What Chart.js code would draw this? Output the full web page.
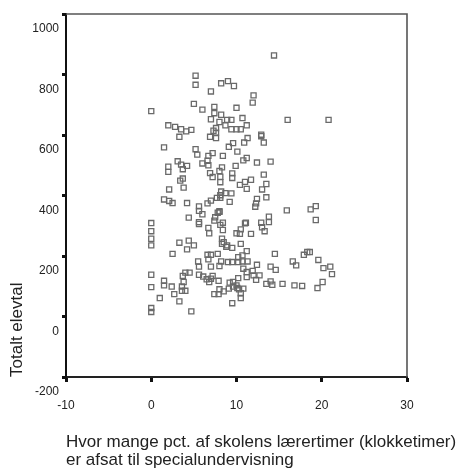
<!DOCTYPE html>
<html>
<head>
<meta charset="utf-8">
<script src="https://cdn.jsdelivr.net/npm/chart.js@4.4.0/dist/chart.umd.min.js"></script>
<style>
  html, body { margin: 0; padding: 0; background: #fff; }
  #wrap { width: 456px; height: 472px; }
</style>
</head>
<body>
<div id="wrap"><canvas id="c" width="456" height="472"></canvas></div>
<script>
// Percentage of teacher hours set aside for special education (x)
const pctSpecial = [
  5.2, 5.2, 8.2, 9.0, 9.7, 7.0, 0, 5.0, 6.0, 7.4, 7.4, 8.2, 10.0, 7.0, 8.0, 8.9, 9.4, 8.7, 7.6, 9.4,
  2.0, 2.8, 3.5, 4.1, 4.7, 7.3, 10.0, 14.4, 12.0, 11.9, 16.0, 20.8, 10.7, 11.2, 10.5, 12.9,
  3.3, 6.9, 7.6, 7.6, 9.6, 1.5, 5.2, 5.4, 7.2, 6.7, 8.4, 9.1, 10.1, 6.0, 6.6, 6.7, 2.0, 2.0,
  3.1, 3.5, 4.2, 3.7, 8.3, 8.0, 6.9, 7.2, 8.1, 9.5, 9.5, 9.9, 8.1, 3.4, 3.7, 3.8, 2.1, 8.2,
  8.7, 9.4, 10.4, 1.5, 2.1, 2.5, 4.2, 8.1, 8.1, 7.7, 7.0, 6.6, 9.2, 5.6, 5.6, 6.0, 7.8, 8.0,
  7.5, 4.4, 5.6, 7.4, 8.4, 0, 11.3, 10.9, 12.9, 13.2, 11.2, 10.8, 12.4, 14.0, 13.2, 11.7,
  11.0, 11.2, 13.5, 13.0, 13.5, 12.4, 12.3, 12.2, 15.9, 18.7, 19.3, 19.3, 11.1, 12.9, 13.8, 13.8,
  0, 0, 0, 5.6, 6.7, 6.8, 8.1, 8.4, 8.3, 8.5, 8.9, 9.5, 10.0, 3.3, 4.4, 5.0, 4.2, 2.5, 6.6,
  7.0, 7.8, 6.7, 5.5, 5.6, 7.0, 8.2, 8.0, 9.0, 9.5, 10.2, 0, 1.5, 1.5, 0, 2.4, 2.7, 1.0, 3.3,
  3.7, 4.0, 4.5, 3.8, 3.6, 4.0, 3.6, 5.6, 6.1, 6.5, 6.8, 7.2, 7.0, 7.9, 9.2, 9.6, 10.0, 8.0,
  8.5, 9.1, 9.6, 10.3, 7.4, 7.9, 9.5, 4.7, 0, 0, 11.0, 10.5, 10.4, 11.7, 13.0, 13.3, 10.5,
  11.2, 10.7, 10.2, 10.7, 11.3, 14.5, 16.6, 17.0, 17.9, 18.3, 18.6, 19.6, 12.4, 14.0, 14.6,
  10.8, 11.2, 11.9, 12.0, 12.7, 12.3, 11.2, 10.2, 10.1, 10.8, 10.5, 10.5, 13.5, 14.0, 14.2,
  15.4, 16.8, 17.7, 19.5, 20.1, 20.2, 21.0, 21.2, 8.0, 8.3, 8.8
];
// Total number of pupils (y)
const totalPupils = [
  796, 766, 771, 778, 762, 744, 679, 703, 684, 693, 672, 667, 690, 652, 643, 650, 650, 632, 623, 619,
  632, 627, 619, 612, 617, 614, 619, 863, 731, 707, 650, 650, 656, 632, 619, 601,
  594, 594, 608, 590, 573, 559, 553, 535, 540, 531, 531, 561, 545, 506, 515, 500, 495, 478,
  513, 502, 498, 487, 493, 481, 474, 461, 462, 473, 458, 498, 444, 449, 456, 426, 420, 413,
  408, 407, 435, 387, 382, 375, 375, 401, 392, 392, 383, 374, 379, 364, 349, 338, 343, 348,
  328, 327, 312, 317, 310, 309, 590, 575, 596, 575, 524, 516, 509, 512, 469, 452,
  445, 422, 438, 420, 394, 389, 374, 363, 351, 354, 365, 319, 310, 310, 330, 312,
  282, 257, 235, 306, 293, 275, 303, 286, 257, 246, 235, 227, 275, 244, 251, 235, 222, 207, 204,
  204, 207, 189, 182, 165, 165, 182, 167, 180, 180, 180, 138, 118, 103, 97, 99, 74, 61, 50,
  134, 145, 145, 114, 99, 85, 85, 138, 132, 123, 114, 134, 125, 118, 112, 114, 103, 90,
  83, 92, 99, 90, 74, 74, 44, 17, 28, 15, 308, 288, 273, 273, 295, 282, 240,
  216, 202, 196, 182, 182, 207, 182, 169, 204, 213, 213, 187, 171, 165, 154,
  158, 147, 151, 136, 136, 121, 130, 127, 94, 92, 77, 61, 108, 116, 105,
  108, 103, 101, 94, 114, 160, 165, 140, 346, 240, 230
];
const xTicks = [-10, 0, 10, 20, 30];
const yTicks = [-200, 0, 200, 400, 600, 800, 1000];
const xTitleLines = ['Hvor mange pct. af skolens lærertimer (klokketimer)', 'er afsat til specialundervisning'];
const yTitle = 'Totalt elevtal';

const points = pctSpecial.map((x, i) => ({ x: x, y: totalPupils[i] }));
const FONT = "'Liberation Sans', Arial, Helvetica, sans-serif";

const framePlugin = {
  id: 'frame',
  beforeDatasetsDraw(chart) {
    const { ctx, chartArea: a } = chart;
    ctx.save();
    ctx.strokeStyle = '#555';
    ctx.lineWidth = 1.6;
    ctx.beginPath();
    ctx.moveTo(a.left, a.top);
    ctx.lineTo(a.right, a.top);
    ctx.lineTo(a.right, a.bottom);
    ctx.stroke();
    ctx.restore();
  }
};

// x-axis title drawn without width compression (it is wider than the plot area)
const xTitlePlugin = {
  id: 'xTitle',
  afterDraw(chart) {
    const { ctx, chartArea: a } = chart;
    const sx = chart.scales.x;
    ctx.save();
    ctx.fillStyle = '#222';
    ctx.font = '17px ' + FONT;
    ctx.textAlign = 'left';
    ctx.textBaseline = 'middle';
    const lh = 18;
    const baseY = sx.bottom - 3 - lh / 2 - lh * (xTitleLines.length - 1);
    xTitleLines.forEach((t, i) => ctx.fillText(t, a.left, baseY + i * lh));
    ctx.restore();
  }
};

new Chart(document.getElementById('c'), {
  type: 'scatter',
  data: {
    datasets: [{
      data: points,
      pointStyle: 'rect',
      pointRadius: 3.6,
      pointHoverRadius: 3.6,
      borderColor: '#6a6a6a',
      backgroundColor: 'rgba(0,0,0,0)',
      pointBorderWidth: 1.3
    }]
  },
  options: {
    responsive: false,
    animation: false,
    devicePixelRatio: 1,
    layout: { padding: { left: 0, top: 14, right: 49, bottom: 0 } },
    plugins: { legend: { display: false }, tooltip: { enabled: false } },
    scales: {
      x: {
        type: 'linear',
        min: xTicks[0],
        max: xTicks[xTicks.length - 1],
        afterFit: s => { s.height = 95; },
        ticks: {
          stepSize: xTicks[1] - xTicks[0],
          color: '#222',
          font: { family: FONT, size: 12 },
          padding: 16,
          maxRotation: 0,
          callback: v => String(v)
        },
        grid: { drawOnChartArea: false, drawTicks: true, tickLength: 5, tickWidth: 3, tickColor: '#111' },
        border: { display: true, color: '#222', width: 2 },
        title: { display: false }
      },
      y: {
        type: 'linear',
        min: yTicks[0],
        max: yTicks[yTicks.length - 1],
        afterFit: s => { s.width = 66; },
        ticks: {
          stepSize: yTicks[1] - yTicks[0],
          color: '#222',
          font: { family: FONT, size: 12 },
          padding: 3,
          labelOffset: 15,
          callback: v => String(v)
        },
        grid: { drawOnChartArea: false, drawTicks: true, tickLength: 4, tickWidth: 3, tickColor: '#111' },
        border: { display: true, color: '#111', width: 2 },
        title: {
          display: true,
          align: 'start',
          text: yTitle,
          color: '#222',
          font: { family: FONT, size: 17, lineHeight: 1.06 },
          padding: { top: 8, bottom: 0 }
        }
      }
    }
  },
  plugins: [framePlugin, xTitlePlugin]
});
</script>
</body>
</html>
